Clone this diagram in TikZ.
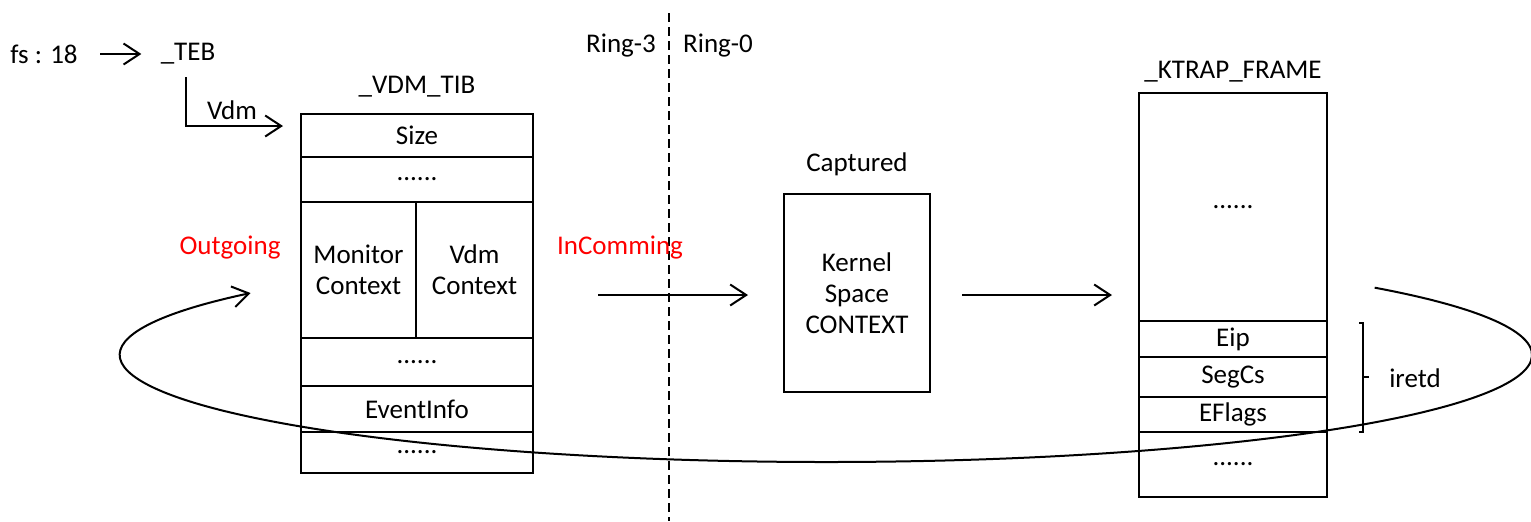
\documentclass[tikz,border=0pt]{standalone}
\usepackage{fontspec}
\setmainfont{Carlito}
\usetikzlibrary{arrows.meta}
\definecolor{lbl}{RGB}{255,0,0}
\tikzset{
  txt/.style={font=\fontsize{13.5}{15.5}\selectfont, inner sep=0pt, align=center},
  redtxt/.style={txt, text=lbl},
  cell/.style={txt, draw, line width=0.75pt, anchor=north west, outer sep=0pt},
  flow/.style={line width=1pt, -{Straight Barb[length=8pt, width=10.5pt, line width=1pt]}},
  ring/.style={line width=1pt, dash pattern=on 4.5pt off 2.5pt}
}
\begin{document}
\begin{tikzpicture}[x=0.5pt, y=-0.5pt]
\useasboundingbox (0,0) rectangle (1531,521);

% ring boundary
\coordinate (rtop) at (669,13);
\coordinate (rbot) at (669,521);
\draw[ring] (rtop) -- (rbot);
\node[txt] (r3) at (621,46) {Ring-3};
\node[txt] (r0) at (718,46) {Ring-0};

% fs:18 -> _TEB -> _VDM_TIB
\node[txt] (fs) at (44,54) {fs : 18};
\node[txt] (teb) at (188,54) {\_TEB};
\draw[flow] ([xshift=11pt]fs.east) -- ([xshift=-9.5pt]teb.west);
\coordinate (tebdown) at (186,77);
\coordinate (vdmin) at (283,126);
\draw[flow] (tebdown) |- (vdmin);
\node[txt] (vdmlbl) at (232,110) {Vdm};

% _VDM_TIB structure
\node[txt] (vdmtitle) at (417,87) {\_VDM\_TIB};
\node[cell, minimum width=116pt, minimum height=21.5pt] (size) at (301,114) {Size};
\node[cell, minimum width=116pt, minimum height=22.5pt] (dots1) at (301,157) {......};
\node[cell, minimum width=57.5pt, minimum height=68pt] (mon) at (301,202) {Monitor\\Context};
\node[cell, minimum width=58.5pt, minimum height=68pt] (vctx) at (416,202) {Vdm\\Context};
\node[cell, minimum width=116pt, minimum height=24pt] (dots2) at (301,338) {......};
\node[cell, minimum width=116pt, minimum height=23pt] (event) at (301,386) {EventInfo};
\node[cell, minimum width=116pt, minimum height=20.5pt] (dots3) at (301,432) {......};

\node[redtxt] (outgoing) at (230,248) {Outgoing};
\node[redtxt] (incoming) at (620,248) {InComming};

% kernel context
\node[txt] (captured) at (857,164) {Captured};
\node[cell, minimum width=73pt, minimum height=99pt] (kctx) at (784,194) {Kernel\\Space\\CONTEXT};
\coordinate (inleft) at (598,295);
\draw[flow] (inleft) -- ([xshift=-18pt]kctx.west |- inleft);
\coordinate (kout) at (962,295);
\coordinate (kin) at (1112,295);
\draw[flow] (kout) -- (kin);

% _KTRAP_FRAME structure
\node[txt] (ktitle) at (1233,72) {\_KTRAP\_FRAME};
\node[cell, minimum width=94pt, minimum height=114pt] (kdots1) at (1139,93) {......};
\node[cell, minimum width=94pt, minimum height=18pt] (eip) at (1139,321) {Eip};
\node[cell, minimum width=94pt, minimum height=20pt] (segcs) at (1139,357) {SegCs};
\node[cell, minimum width=94pt, minimum height=17.5pt] (eflags) at (1139,397) {EFlags};
\node[cell, minimum width=94pt, minimum height=32.5pt] (kdots2) at (1139,432) {......};

% iretd bracket
\draw[line width=0.75pt] (1359,323) -- (1363,323) -- (1363,432) -- (1359,432)
      (1363,377) -- (1369,377);
\node[txt] (iretd) at (1415,378) {iretd};

% return loop back to user mode
\coordinate (loopc) at (826,355);
\draw[flow]
  ([shift={(39:706 and -107)}]loopc) arc[start angle=39, end angle=-215.4, x radius=706, y radius=-107];
\end{tikzpicture}
\end{document}
